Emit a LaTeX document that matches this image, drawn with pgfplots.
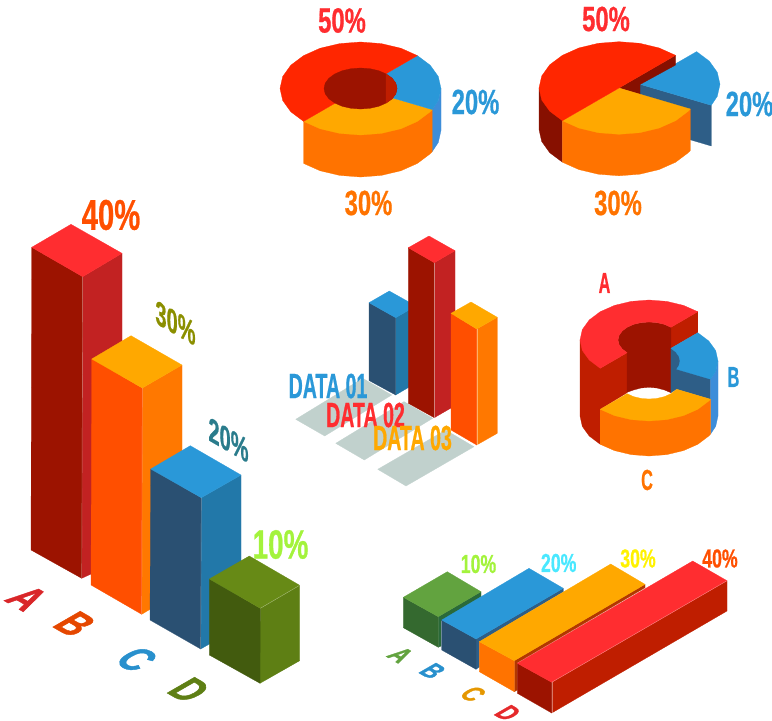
\documentclass[border=0pt]{standalone}
\usepackage{pgfplots}
\pgfplotsset{compat=1.18}
\usepackage{fontspec}
\setmainfont{Liberation Sans}
\newfontfamily\condA[FakeStretch=0.68,FakeBold=0.6,UprightFont=* Bold]{Liberation Sans}
\newfontfamily\condB[FakeStretch=0.56,FakeBold=0.6,UprightFont=* Bold]{Liberation Sans}
\newfontfamily\condC[FakeStretch=0.72,FakeBold=1.2,UprightFont=* Bold]{Liberation Sans}
\definecolor{cTopRed}{HTML}{FF2D30}
\definecolor{cRed}{HTML}{FF2600}
\definecolor{cBlue}{HTML}{2A98D8}
\definecolor{cYel}{HTML}{FFA800}
\definecolor{cOra}{HTML}{FF7300}
\definecolor{cOraL}{HTML}{FF4F00}
\definecolor{cOraR}{HTML}{FF7800}
\definecolor{cDark}{HTML}{9C1300}
\definecolor{cDarker}{HTML}{871000}
\definecolor{cMid}{HTML}{BF1E00}
\definecolor{cRedR}{HTML}{C22222}
\definecolor{cBlueL}{HTML}{2A5072}
\definecolor{cBlueR}{HTML}{2278A9}
\definecolor{cBlueS}{HTML}{3D8DD9}
\definecolor{cBlueD}{HTML}{2E5E87}
\definecolor{cGrey}{HTML}{C1D1CD}
\definecolor{cGreenT}{HTML}{678A16}
\definecolor{cGreenL}{HTML}{425B0E}
\definecolor{cGreenR}{HTML}{5E7F14}
\definecolor{cLeafT}{HTML}{62A33F}
\definecolor{cLeafL}{HTML}{34692F}
\definecolor{cLeafR}{HTML}{2A6A3A}
\definecolor{cLime}{HTML}{A3F33C}
\definecolor{cCyan}{HTML}{4AE8FF}
\definecolor{cOlive}{HTML}{8B8F00}
\definecolor{cTeal}{HTML}{2A7C8C}
\newcommand\poly[2]{\addplot[fill=#1,draw=#1,line width=.25pt,line join=round,forget plot] coordinates {#2} --cycle;}
\newcommand\edge[1]{\addplot[white,opacity=.4,line width=.4pt,forget plot] coordinates {#1};}
\newcommand\lab[5]{\node[text=#1,inner sep=0pt,anchor=center] at (axis cs:#2,#3) {\fontsize{#4}{#4}\selectfont\condA #5};}
\newcommand\labB[5]{\node[text=#1,inner sep=0pt,anchor=center] at (axis cs:#2,#3) {\fontsize{#4}{#4}\selectfont\condB #5};}
\newcommand\floor[5]{\node[text=#1,inner sep=0pt,anchor=center,cm={.866,-.5,.866,.5,(0,0)}] at (axis cs:#2,#3) {\fontsize{#4}{#4}\selectfont\condC #5};}
\newcommand\wall[5]{\node[text=#1,inner sep=0pt,anchor=center,cm={.866,-.5,0,1,(0,0)}] at (axis cs:#2,#3) {\fontsize{#4}{#4}\selectfont\condA #5};}
\begin{document}
\begin{tikzpicture}
\useasboundingbox (0,0) rectangle (772pt,721pt);
\begin{axis}[scale only axis,width=772pt,height=721pt,xmin=0,xmax=772,ymin=0,ymax=721,y dir=reverse,
  axis line style={draw=none},ticks=none,clip=false]
% ---- donut top left
\poly{cBlueS}{(441,88.5)(441,130.5)(438.3,142.5)(432.2,151.6)(432.2,109.6)(438.3,100.5)}
\poly{cOra}{(432.2,109.6)(432.2,151.6)(430.2,153.8)(417.4,163.4)(400.8,170.8)(381.3,175.4)(360.5,177)(339.7,175.4)(320.2,170.8)(303.6,163.4)(303.6,121.4)}
\poly{cYel}{(360.5,88.5)(432.2,109.6)(430.2,111.8)(417.4,121.4)(400.8,128.8)(381.3,133.4)(360.5,135)(339.7,133.4)(320.2,128.8)(303.6,121.4)}
\poly{cBlue}{(360.5,88.5)(417.4,55.6)(430.2,65.2)(438.3,76.5)(441,88.5)(438.3,100.5)(432.2,109.6)}
\poly{cRed}{(360.5,88.5)(417.4,55.6)(400.8,48.2)(381.3,43.6)(360.5,42)(339.7,43.6)(320.2,48.2)(303.6,55.6)(290.8,65.2)(282.7,76.5)(280,88.5)(282.7,100.5)(290.8,111.8)(303.6,121.4)}
\poly{cDark}{(397,88.5)(395.8,93.8)(392.1,98.8)(386.3,103)(378.8,106.3)(370,108.3)(360.5,109)(351,108.3)(342.2,106.3)(334.7,103)(328.9,98.8)(325.2,93.8)(324,88.5)(325.2,83.2)(328.9,78.2)(334.7,74)(342.2,70.7)(351,68.7)(360.5,68)(370,68.7)(378.8,70.7)(386.3,74)(392.1,78.2)(395.8,83.2)}
\poly{cMid}{(386,74)(392.1,78.2)(395.8,83.2)(397,88.5)(395.8,93.8)(392.1,98.8)(386,103)}
% ---- exploded pie top right
\poly{cBlueD}{(640,84.3)(711.3,105.3)(711.3,146)(640,125)}
\poly{cBlue}{(640,84.3)(696.6,51.6)(709.3,61.1)(717.3,72.3)(720,84.3)(717.3,96.3)(711.3,105.3)}
\poly{cDarker}{(619,88)(675.6,55.3)(675.6,65)(640,84.5)(640,94.4)}
\poly{cDarker}{(539,88)(539,129.5)(541.7,141.5)(549.7,152.7)(562.4,162.2)(562.4,120.7)}
\poly{cOra}{(690.3,109)(690.3,150.5)(688.3,152.7)(675.6,162.2)(659,169.6)(639.7,174.2)(619,175.8)(598.3,174.2)(579,169.6)(562.4,162.2)(562.4,120.7)}
\poly{cYel}{(619,88)(690.3,109)(688.3,111.2)(675.6,120.7)(659,128.1)(639.7,132.7)(619,134.3)(598.3,132.7)(579,128.1)(562.4,120.7)}
\poly{cRed}{(619,88)(675.6,55.3)(659,47.9)(639.7,43.3)(619,41.7)(598.3,43.3)(579,47.9)(562.4,55.3)(549.7,64.8)(541.7,76)(539,88)(541.7,100)(549.7,111.2)(562.4,120.7)}
% ---- labels top
\lab{cTopRed}{342}{20.5}{35}{50\%}
\lab{cTopRed}{606}{19}{35}{50\%}
\lab{cBlue}{475.5}{102}{35}{20\%}
\lab{cBlue}{749.5}{104}{35}{20\%}
\lab{cOra}{368.5}{203}{35}{30\%}
\lab{cOra}{618}{203}{35}{30\%}
% ---- left big bars
\poly{cRedR}{(82.7,276.7)(122,253.3)(122,560)(81.7,578.3)}
\poly{cDark}{(31.7,247.3)(82.7,276.7)(81.7,578.3)(31,550)}
\poly{cTopRed}{(31.7,247.3)(71,224.3)(122,253.3)(82.7,276.7)}
\edge{(82.7,276.7)(81.7,578.3)}
\poly{cOraR}{(142.3,388)(182,365)(182,590)(141.7,614.3)}
\poly{cOraL}{(91.7,359)(142.3,388)(141.7,614.3)(91,585)}
\poly{cYel}{(91.7,359)(131,335.7)(182,365)(142.3,388)}
\edge{(142.3,388)(141.7,614.3)}
\poly{cBlueR}{(201.3,497.7)(241,475)(241,626)(200.7,649)}
\poly{cBlueL}{(150.7,469)(201.3,497.7)(200.7,649)(150,620)}
\poly{cBlue}{(150.7,469)(190.3,445.7)(241,475)(201.3,497.7)}
\edge{(201.3,497.7)(200.7,649)}
\poly{cGreenR}{(260.3,608.3)(299.7,585.3)(299.7,660.7)(260,683.3)}
\poly{cGreenL}{(209.3,579)(260.3,608.3)(260,683.3)(209.3,655)}
\poly{cGreenT}{(209.3,579)(249.3,556)(299.7,585.3)(260.3,608.3)}
\edge{(260.3,608.3)(299.7,585.3)}
\lab{cOraL}{111}{215}{43}{40\%}
\wall{cOlive}{175.5}{323}{34}{30\%}
\wall{cTeal}{228.5}{440}{34}{20\%}
\lab{cLime}{280.5}{544.5}{41}{10\%}
\floor{cTopRed!85!black}{27.3}{598.3}{46}{A}
\floor{cOraL!90!black}{75}{624}{46}{B}
\floor{cBlue!95!black}{136.7}{659.3}{46}{C}
\floor{cGreenR}{189.3}{690}{46}{D}
% ---- centre bars
\poly{cGrey}{(295.7,419.3)(324.7,436)(391.7,395)(362.7,378.3)}
\poly{cGrey}{(335.7,443.3)(364.3,460)(432.7,418.3)(404,401.6)}
\poly{cGrey}{(377.7,469.3)(406,486)(474,446.7)(445.7,430)}
\poly{cBlueR}{(395.7,317.7)(416,306)(416,383)(395.7,395)}
\poly{cBlueL}{(369,302.7)(395.7,317.7)(395.7,395)(369,380.5)}
\poly{cBlue}{(369,302.7)(389.3,291)(416,306)(395.7,317.7)}
\poly{cRedR}{(434.3,262.7)(455,250.7)(455,405.7)(434.3,417.7)}
\poly{cDark}{(408.3,247.7)(434.3,262.7)(434.3,417.7)(408.3,403.3)}
\poly{cTopRed}{(408.3,247.7)(429,236)(455,250.7)(434.3,262.7)}
\edge{(434.3,262.7)(434.3,417.7)}
\poly{cOraR}{(476.7,329)(497.3,317.3)(497.3,433.3)(476.7,445)}
\poly{cOraL}{(451,313.3)(476.7,329)(476.7,445)(451,430)}
\poly{cYel}{(451,313.3)(471,302)(497.3,317.3)(476.7,329)}
\edge{(476.7,329)(476.7,445)}
\labB{cBlue}{328}{386}{35}{DATA 01}
\labB{cTopRed}{365.5}{415}{35}{DATA 02}
\labB{cYel}{412.5}{438}{35}{DATA 03}
% ---- ABC donut
\poly{cMid}{(580,340)(580,416)(582.3,426.4)(589.2,436)(600.2,444.3)(600.2,368.3)}
\poly{cMid}{(670.9,327.3)(697.8,311.7)(697.8,332.7)(670.9,348.3)}
\poly{cMid}{(600.2,368.3)(627.1,352.7)(627.1,392.7)(600.2,409.3)}
\poly{cDark}{(627.1,352.7)(622.2,349)(619.1,344.7)(618,340)(619.1,335.3)(622.2,331)(627.1,327.3)(633.5,324.4)(641,322.6)(649,322)(657,322.6)(664.5,324.4)(670.9,327.3)(670.9,392.7)(664.5,390)(657,388)(649,387.3)(641,388)(633.5,390)(627.1,392.3)}
\poly{cBlueD}{(670.9,348.3)(690,355)(710.5,379.2)(710.5,399.2)(676.6,389.2)(670.9,392.7)}
\poly{cBlueS}{(718,361)(718,416)(715.7,426.4)(710.5,434.2)(710.5,379.2)(715.7,371.4)}
\poly{cBlue}{(697.8,332.7)(708.8,341)(715.7,350.6)(718,361)(715.7,371.4)(710.5,379.2)(676.6,369.2)(678.9,365.7)(680,361)(678.9,356.3)(675.8,352)(670.9,348.3)}
\poly{cOra}{(600.2,444.3)(614.5,450.6)(631.1,454.6)(649,456)(666.9,454.6)(683.5,450.6)(697.8,444.3)(708.8,436)(710.5,434.2)(710.5,399.2)(600.2,409.3)}
\poly{cYel}{(710.5,399.2)(708.8,401)(697.8,409.3)(683.5,415.6)(666.9,419.6)(649,421)(631.1,419.6)(614.5,415.6)(600.2,409.3)(627.1,393.7)(633.5,396.6)(641,398.4)(649,399)(657,398.4)(664.5,396.6)(670.9,393.7)(675.8,390)(676.6,389.2)}
\poly{cTopRed}{(697.8,311.7)(683.5,305.4)(666.9,301.4)(649,300)(631.1,301.4)(614.5,305.4)(600.2,311.7)(589.2,320)(582.3,329.6)(580,340)(582.3,350.4)(589.2,360)(600.2,368.3)(627.1,352.7)(622.2,349)(619.1,344.7)(618,340)(619.1,335.3)(622.2,331)(627.1,327.3)(633.5,324.4)(641,322.6)(649,322)(657,322.6)(664.5,324.4)(670.9,327.3)}
\labB{cTopRed}{604.5}{283}{29}{A}
\labB{cBlue}{733.5}{377}{29}{B}
\labB{cOra}{647}{480}{29}{C}
% ---- bottom right bars
\poly{cLeafR}{(438.3,616.7)(481,591.7)(481,597)(441,621)(441,646)(438.3,647.3)}
\poly{cLeafL}{(403.3,597.3)(438.3,616.7)(438.3,647.3)(403.3,627.7)}
\poly{cLeafT}{(403.3,597.3)(447.3,571.7)(481,591.7)(438.3,616.7)}
\poly{cBlueD}{(476,639)(563.3,588.3)(563.3,591.7)(479.3,641.7)(479.3,667)(476,669.3)}
\poly{cBlueL}{(441.7,620)(476,639)(476,669.3)(441.7,650)}
\poly{cBlue}{(441.7,620)(529,568.3)(563.3,588.3)(476,639)}
\poly{cOraL!70!black}{(514.3,660.7)(645,584.3)(645,587.7)(517.3,662.7)(517.3,690)(514.3,691.7)}
\poly{cOra}{(479.3,641.7)(514.3,660.7)(514.3,691.7)(479.3,671.7)}
\poly{cYel}{(479.3,641.7)(610.7,564)(645,584.3)(514.3,660.7)}
\poly{cMid}{(551.7,682.3)(727,580.7)(727,611)(551.7,713)}
\poly{cDark}{(517.3,663.3)(551.7,682.3)(551.7,713)(517.3,693.3)}
\poly{cTopRed}{(517.3,663.3)(692.7,561)(727,580.7)(551.7,682.3)}
\edge{(551.7,682.3)(727,580.7)}
\edge{(551.7,682.3)(551.7,713)}
\lab{cLime}{478.5}{564}{26}{10\%}
\lab{cCyan}{558.7}{563}{26}{20\%}
\lab{yellow}{638}{558.5}{26}{30\%}
\lab{cOraL}{720}{558.5}{26}{40\%}
\floor{cLeafT}{400.7}{655}{29}{A}
\floor{cBlue!95!black}{432.7}{671}{29}{B}
\floor{cYel!90!black}{473}{694}{29}{C}
\floor{cTopRed!90!black}{508}{713}{29}{D}
\end{axis}
\end{tikzpicture}
\end{document}
